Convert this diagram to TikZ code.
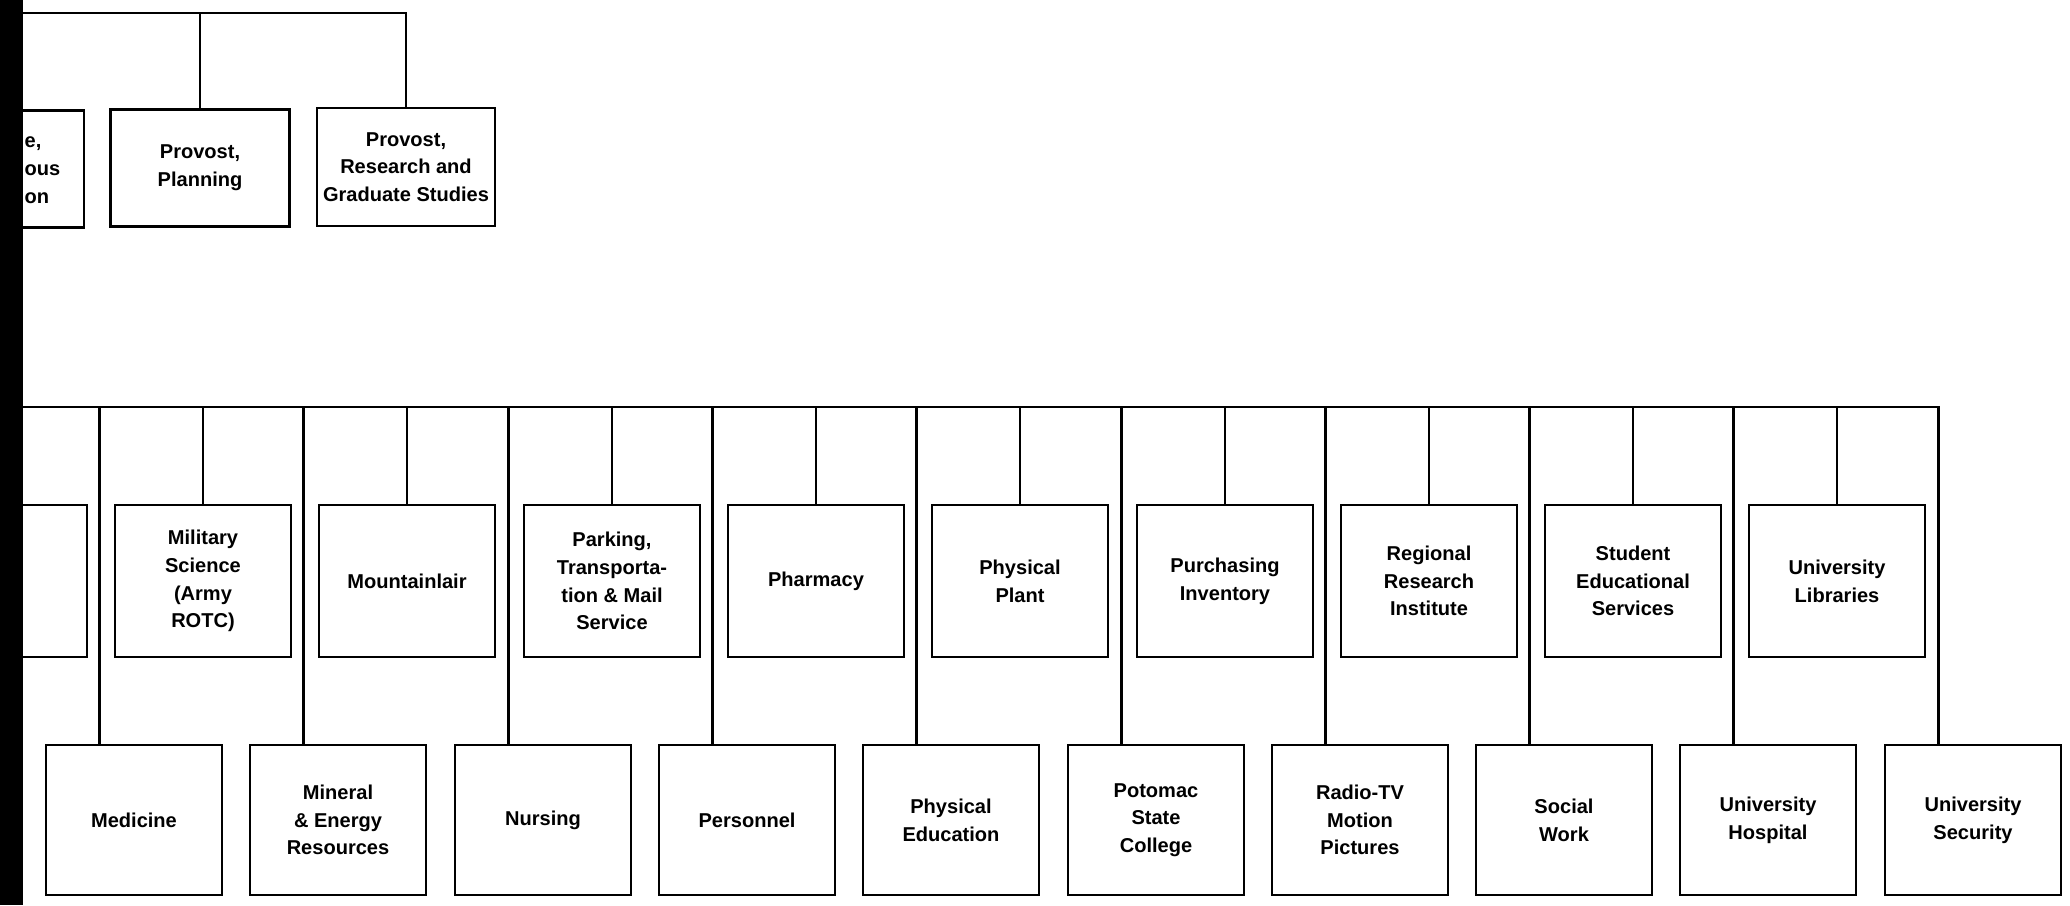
\documentclass[tikz,border=0pt]{standalone}
\usepackage{fontspec}
\setmainfont{Liberation Sans}
\usepackage{tikz}
\usetikzlibrary{positioning,calc}
\tikzstyle{unit} = [rectangle, draw, line width=0.8pt, minimum width=1.76cm, minimum height=1.52cm, align=center, inner sep=1pt, font=\bfseries\fontsize{5.7}{7.9}\selectfont]
\tikzstyle{college} = [unit, minimum height=1.5cm]
\tikzstyle{link} = [line width=0.8pt]

\begin{document}
\begin{tikzpicture}[x=0.01cm, y=-0.01cm]
    \useasboundingbox (0,0) rectangle (2070,905);
    \clip (0,0) rectangle (2070,905);
    % provosts
    \node[unit, minimum width=1.8cm, minimum height=1.17cm] (ext) at (-6,169) {};
    \node[font=\bfseries\fontsize{5.7}{7.9}\selectfont, align=left, anchor=west, inner sep=0pt] (extx) at (24,170) {e,\\ous\\on};
    \node[unit, minimum width=1.79cm, minimum height=1.17cm] (plan) at (200,168) {Provost,\\Planning};
    \node[unit, minimum width=1.78cm, minimum height=1.18cm] (res) at (406,167) {Provost,\\Research and\\Graduate Studies};
    \coordinate (topL) at (10,13);
    \draw[link] (topL) -| (res.north);
    \draw[link] (plan.north) -- (plan.north |- topL);
    % units, upper row
    \node[unit] (misc) at (-1,581) {};
    \node[unit] (mil) at (203,581) {Military\\Science\\(Army\\ROTC)};
    \node[unit] (mtn) at (407,581) {Mountainlair};
    \node[unit] (park) at (612,581) {Parking,\\Transporta-\\tion \& Mail\\Service};
    \node[unit] (phar) at (816,581) {Pharmacy};
    \node[unit] (plant) at (1020,581) {Physical\\Plant};
    \node[unit] (purch) at (1225,581) {Purchasing\\Inventory};
    \node[unit] (reg) at (1429,581) {Regional\\Research\\Institute};
    \node[unit] (stud) at (1633,581) {Student\\Educational\\Services};
    \node[unit] (lib) at (1837,581) {University\\Libraries};
    % units, lower row
    \node[college] (med) at (134,820) {Medicine};
    \node[college] (min) at (338,820) {Mineral\\\& Energy\\Resources};
    \node[college] (nurs) at (543,820) {Nursing};
    \node[college] (pers) at (747,820) {Personnel};
    \node[college] (pe) at (951,820) {Physical\\Education};
    \node[college] (pot) at (1156,820) {Potomac\\State\\College};
    \node[college] (radio) at (1360,820) {Radio-TV\\Motion\\Pictures};
    \node[college] (soc) at (1564,820) {Social\\Work};
    \node[college] (hosp) at (1768,820) {University\\Hospital};
    \node[college] (sec) at (1973,820) {University\\Security};
    \coordinate (barL) at (10,407);
    \foreach \n in {mil,mtn,park,phar,plant,purch,reg,stud,lib}
        \draw[link] (\n.north) -- (\n.north |- barL);
    \foreach \n in {med,min,nurs,pers,pe,pot,radio,soc,hosp,sec}
        \draw[link] ($(\n.north west)+(55,0)$) |- (barL);
    % scan edge
    \fill[black] (0,0) rectangle (23,905);
\end{tikzpicture}
\end{document}
